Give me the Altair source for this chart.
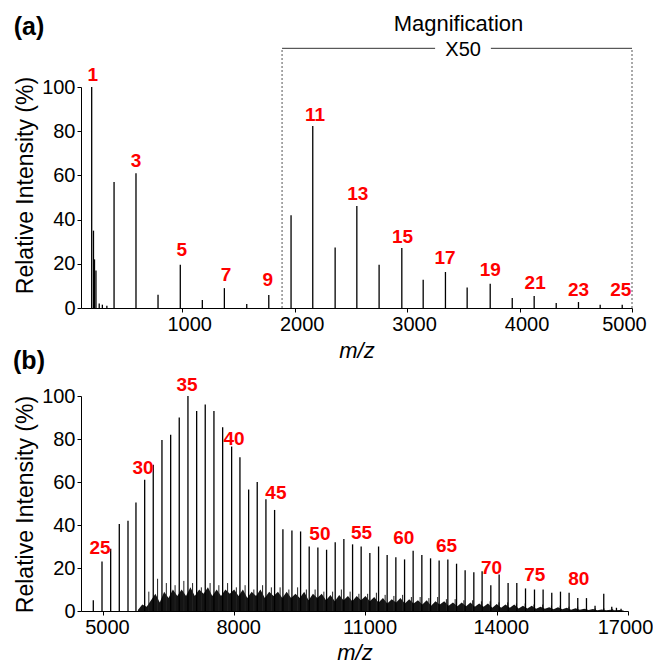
import altair as alt
import pandas as pd

FONT = "Liberation Sans"
RED = "#ff0000"

# ---------------- panel (a) ----------------
a_mz = [195, 211, 220, 233, 262, 290, 330, 394, 589, 785, 983, 1179, 1375, 1574, 1770,
        1968, 2161, 2360, 2553, 2751, 2953, 3143, 3341, 3534, 3739, 3935, 4130, 4326,
        4524, 4717, 4913]
a_int = [100, 35, 22, 17, 2, 1.5, 1, 57, 61, 6, 19.6, 3.6, 9, 1.8, 5.9,
         42, 82.4, 27.4, 46.2, 19.6, 27.1, 12.8, 16.3, 9.3, 11, 4.5, 5.4, 2.3,
         2.7, 1.5, 1.5]
a_lab = ["1", "3", "5", "7", "9", "11", "13", "15", "17", "19", "21", "23", "25"]
a_lab_mz = [204, 590, 996, 1390, 1761, 2182, 2561, 2959, 3338, 3739, 4139, 4524, 4901]
a_lab_y = [105.3, 66.4, 26.2, 14.9, 12.7, 87.5, 51.5, 32.2, 22.4, 17.2, 11.4, 8.1, 8.1]
a_ticks = [1000, 2000, 3000, 4000, 5000]

# magnification bracket (data units)
mag_left, mag_right = 1888, 5000
mag_top = 117.5
mag_gap = [3249, 3745]
mag_title = ("Magnification", 3457, 128.3)
mag_factor = ("X50", 3498, 116.8)

# ---------------- panel (b) ----------------
b_mz = [4781, 4980, 5178, 5375, 5574, 5756, 5955, 6151, 6350, 6549, 6745, 6944, 7143,
        7339, 7538, 7737, 7942, 8132, 8331, 8527, 8726, 8924, 9114, 9320, 9518, 9715,
        9913, 10112, 10309, 10507, 10706, 10902, 11101, 11300, 11496, 11695, 11894,
        12090, 12289, 12488, 12684, 12883, 13082, 13278, 13477, 13666, 13865, 14055,
        14260, 14459, 14658, 14863, 15060, 15258, 15457, 15654, 15852, 16051, 16247,
        16446, 16629, 16736, 16841]
b_int = [5, 23, 29, 40.5, 42, 50.5, 61, 68, 79.5, 82, 90, 100, 93,
         96, 93, 85.5, 76.5, 71.5, 56.5, 60, 52, 47, 38, 37.5, 37, 30,
         29.5, 28.5, 32, 33.5, 31, 30, 27, 30, 26, 25, 24,
         28, 26, 24.5, 23.5, 24, 22, 19, 18, 18.5, 12, 17,
         13, 13, 10.5, 10, 10, 8.5, 9, 8.5, 6, 6, 2.5,
         8, 2, 1.5, 1]
b_lab = ["25", "30", "35", "40", "45", "50", "55", "60", "65", "70", "75", "80"]
b_lab_mz = [4934, 5916, 6921, 7995, 8954, 9959, 10911, 11878, 12852, 13881, 14870, 15875]
b_lab_y = [29.3, 66.5, 105, 79.9, 54.7, 35.7, 36.1, 34.1, 30.2, 19.9, 16.7, 14.7]
b_ticks = [5000, 8000, 11000, 14000, 17000]

# dense baseline noise (envelope) and the taller noise spikes between peaks
noise_mz = [5800, 5900, 6000, 6100, 6200, 6300, 6400, 6500, 6600, 6700, 6800, 6900,
            7000, 7100, 7200, 7300, 7400, 7500, 7600, 7700, 7800, 7900, 8000, 8100,
            8200, 8300, 8400, 8500, 8600, 8700, 8800, 8900, 9000, 9100, 9200, 9300,
            9400, 9500, 9600, 9700, 9800, 9900, 10000, 10100, 10200, 10300, 10400,
            10500, 10600, 10700, 10800, 10900, 11000, 11100, 11200, 11300, 11400,
            11500, 11600, 11700, 11800, 11900, 12000, 12100, 12200, 12300, 12400,
            12500, 12600, 12700, 12800, 12900, 13000, 13100, 13200, 13300, 13400,
            13500, 13600, 13700, 13800, 13900, 14000, 14100, 14200, 14300, 14400,
            14500, 14600, 14700, 14800, 14900, 15000, 15100, 15200, 15300, 15400,
            15500, 15600, 15700, 15800, 15900, 16000, 16100, 16200, 16300, 16400,
            16500, 16600, 16700, 16800, 16900]
noise_int = [0.5, 3, 2, 5, 8, 4, 9, 6, 10, 7, 10, 7,
             11, 7, 10, 8, 11, 7, 10, 7, 10, 8, 10, 7,
             10, 6, 9, 7, 10, 6, 9, 7, 9, 6, 9, 6,
             8, 6, 9, 5, 8, 6, 8, 5, 7.5, 4.5, 7.5,
             5, 7, 4.5, 7, 5, 7, 4.5, 6.5, 4, 6,
             3.5, 5.5, 4, 6, 3.5, 5.5, 3.5, 5, 3, 5,
             2.5, 4.5, 3, 4.5, 2.5, 4, 2.2, 4, 2.2, 4,
             2, 3.5, 2, 3.5, 1.5, 3.2, 1.5, 3, 1.5, 3,
             1.2, 2.5, 1.2, 2.4, 1, 2, 1, 1.8, 0.8, 1.7,
             0.8, 1.5, 0.6, 1.3, 0.6, 1.1, 0.5, 0.9, 0.4, 0.7,
             0.3, 0.6, 0.3, 0.5, 0.2]
spike_mz = [6050, 6250, 6450, 6650, 6850, 7050, 7250, 7450, 7650, 7850, 8050, 8250,
            8450, 8650, 8850, 9050, 9250, 9450, 9650, 9850, 10050, 10250, 10450,
            10650, 10850, 11050, 11250, 11450, 11650, 11850, 12050, 12250, 12450,
            12650, 12850, 13050, 13250, 13450, 13650, 13850, 14050, 14250, 14450,
            14650, 14850, 15050, 15250, 15450, 15650, 15850, 16050, 16250, 16450, 16650]
spike_int = [9, 15, 13, 12, 14, 13, 11, 13, 12, 13, 11, 12,
             10, 12, 11, 11, 10, 11, 10, 10, 9, 9, 10,
             9, 8, 8, 8.5, 7.5, 7, 7.5, 6.5, 6.5, 6,
             6.5, 5.5, 5.5, 5, 5, 4.5, 4.5, 4, 4, 3.5,
             3.5, 3, 3, 2.5, 2.5, 2, 2, 1.5, 1.2, 1.2, 1]

y_ticks = [0, 20, 40, 60, 80, 100]

# ---------------- build ----------------
dfa = pd.DataFrame({"mz": a_mz, "int": a_int})
dfa_lab = pd.DataFrame({"mz": a_lab_mz, "int": a_lab_y, "t": a_lab})
dfb = pd.DataFrame({"mz": b_mz, "int": b_int})
dfb_lab = pd.DataFrame({"mz": b_lab_mz, "int": b_lab_y, "t": b_lab})
dfn = pd.DataFrame({"mz": noise_mz, "int": noise_int})
dfs = pd.DataFrame({"mz": spike_mz, "int": spike_int})


def y_axis(title_y):
    return alt.Axis(values=y_ticks, title="Relative Intensity (%)", titleFontStyle="normal",
                    titleX=-56, titleY=title_y, titleBaseline="middle", titleAngle=270,
                    titleFontSize=23, labelPadding=2, format="d")


def x_axis(ticks, dx, last_dx, title_y):
    return alt.Axis(values=ticks, title="m/z", titleFontStyle="italic",
                    labelOffset={"condition": {"test": f"datum.value == {ticks[-1]}",
                                               "value": last_dx}, "value": dx},
                    labelFlush=False, labelPadding=2,
                    titleY=title_y, titleBaseline="middle", format="d")


xa_scale = alt.Scale(domain=[100, 5000], nice=False, zero=False)
ya_scale = alt.Scale(domain=[0, 100], nice=False)

peaks_a = alt.Chart(dfa).mark_rule(color="black", strokeWidth=1.3).encode(
    x=alt.X("mz:Q", scale=xa_scale, axis=x_axis(a_ticks, 7, -8, 42)),
    y=alt.Y("int:Q", scale=ya_scale, axis=y_axis(98)),
    y2=alt.datum(0),
)
labels_a = alt.Chart(dfa_lab).mark_text(
    color=RED, font=FONT, fontSize=19, fontWeight="bold", baseline="middle"
).encode(x="mz:Q", y="int:Q", text="t:N")

bracket_v = alt.Chart(pd.DataFrame({"mz": [mag_left, mag_right]})).mark_rule(
    color="#555555", strokeWidth=1, strokeDash=[2, 2]
).encode(x="mz:Q", y=alt.datum(0), y2=alt.datum(mag_top))
bracket_h = alt.Chart(pd.DataFrame({"mz": [mag_left, mag_gap[1]], "mz2": [mag_gap[0], mag_right]})).mark_rule(
    color="#333333", strokeWidth=1
).encode(x="mz:Q", x2="mz2:Q", y=alt.datum(mag_top))
mag_text = alt.Chart(pd.DataFrame({
    "mz": [mag_title[1], mag_factor[1]], "int": [mag_title[2], mag_factor[2]],
    "t": [mag_title[0], mag_factor[0]], "s": [22, 20]})).mark_text(
    font=FONT, color="black", baseline="middle"
).encode(x="mz:Q", y="int:Q", text="t:N", size=alt.Size("s:Q", scale=None, legend=None))

panel_tags = alt.Chart(pd.DataFrame({"t": ["(a)", "(b)"], "py": [-60, 274]})).mark_text(
    font=FONT, fontSize=25, fontWeight="bold", color="black", baseline="middle"
).encode(x=alt.value(-52), y=alt.Y("py:Q", scale=None), text="t:N")

chart_a = alt.layer(peaks_a, bracket_v, bracket_h, mag_text, labels_a, panel_tags).properties(
    width=551, height=221)

xb_scale = alt.Scale(domain=[4500, 17000], nice=False, zero=False)
yb_scale = alt.Scale(domain=[0, 100], nice=False)

noise_b = alt.Chart(dfn).mark_area(color="black", opacity=0.92, interpolate="linear").encode(
    x=alt.X("mz:Q", scale=xb_scale, axis=x_axis(b_ticks, 4, -3, 41)),
    y=alt.Y("int:Q", scale=yb_scale, axis=y_axis(108)),
    y2=alt.datum(0),
)
spikes_b = alt.Chart(dfs).mark_rule(color="#222222", strokeWidth=1).encode(
    x="mz:Q", y="int:Q", y2=alt.datum(0))
peaks_b = alt.Chart(dfb).mark_rule(color="black", strokeWidth=1.3).encode(
    x="mz:Q", y="int:Q", y2=alt.datum(0))
labels_b = alt.Chart(dfb_lab).mark_text(
    color=RED, font=FONT, fontSize=19, fontWeight="bold", baseline="middle"
).encode(x="mz:Q", y="int:Q", text="t:N")

chart_b = alt.layer(noise_b, spikes_b, peaks_b, labels_b).properties(width=547, height=215)

chart = alt.vconcat(chart_a, chart_b, spacing=88, bounds="flush").properties(
    padding={"left": 5, "top": 5, "right": 0, "bottom": 1}
).configure_axis(
    grid=False, domainColor="black", tickColor="black", labelColor="black",
    titleColor="black", labelFont=FONT, titleFont=FONT, labelFontSize=20,
    titleFontSize=22, titleFontWeight="normal", tickSize=4, domainWidth=1, tickWidth=1
).configure_view(stroke=None)

chart.save("out.html", embed_options={"renderer": "svg", "actions": False})
